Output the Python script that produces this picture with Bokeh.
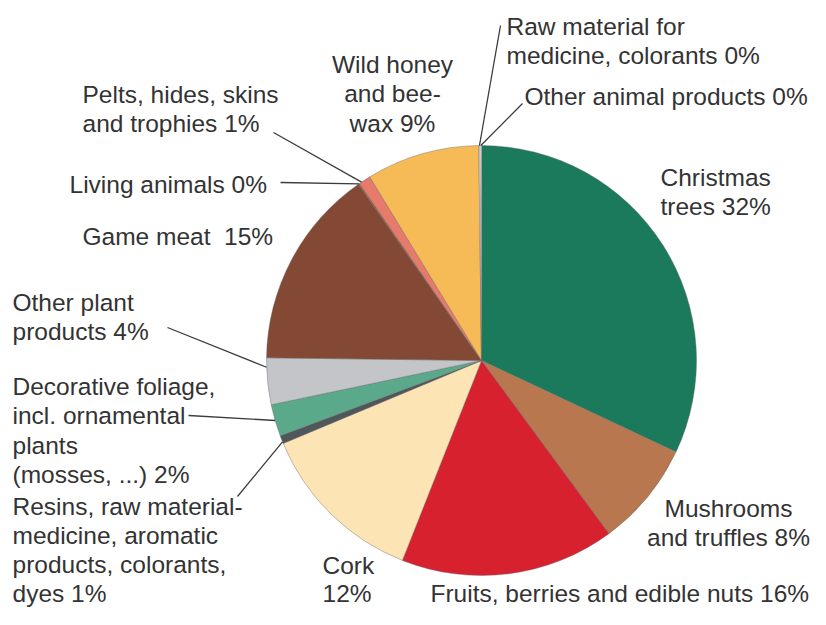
import numpy as np
from bokeh.plotting import figure
from bokeh.models import Range1d, ColumnDataSource
from bokeh.embed import file_html
from bokeh.resources import INLINE
from bokeh.core.properties import value

# ---------------- data ----------------
categories = [
    "Christmas trees",
    "Mushrooms and truffles",
    "Fruits, berries and edible nuts",
    "Cork",
    "Resins, raw material-medicine, aromatic products, colorants, dyes",
    "Decorative foliage, incl. ornamental plants (mosses, ...)",
    "Other plant products",
    "Game meat",
    "Living animals",
    "Pelts, hides, skins and trophies",
    "Wild honey and bee-wax",
    "Raw material for medicine, colorants",
    "Other animal products",
]
shares = [32.0, 7.9, 16.1, 12.7, 0.6, 2.4, 3.5, 15.1, 0.1, 0.9, 8.5, 0.1, 0.1]
pct_labels = ["32%", "8%", "16%", "12%", "1%", "2%", "4%", "15%", "0%", "1%", "9%", "0%", "0%"]
label_lines = [
    ["Christmas", "trees 32%"],
    ["Mushrooms", "and truffles 8%"],
    ["Fruits, berries and edible nuts 16%"],
    ["Cork", "12%"],
    ["Resins, raw material-", "medicine, aromatic", "products, colorants,", "dyes 1%"],
    ["Decorative foliage,", "incl. ornamental", "plants", "(mosses, ...) 2%"],
    ["Other plant", "products 4%"],
    ["Game meat\u00a0 15%"],
    ["Living animals 0%"],
    ["Pelts, hides, skins", "and trophies 1%"],
    ["Wild honey", "and bee-", "wax 9%"],
    ["Raw material for", "medicine, colorants 0%"],
    ["Other animal products 0%"],
]
colors = ["#1b7a5b", "#b9774f", "#d7212f", "#fde4b4", "#4f575a", "#5aa98a",
          "#c3c5c9", "#834935", "#9a5a3c", "#e87a6b", "#f6bb57", "#f3efe0", "#ffffff"]

# ---------------- layout (reference pixel space) ----------------
W, H = 810, 609
CX, CY, R = 481, 360, 215          # pie centre / radius in picture pixels

def dx(x):
    return x - CX

def dy(y):
    return CY - y

# label anchor: (x, cap-top y, align, line spacing)
label_pos = [
    (660, 168, "left", 29.5),
    (728, 499, "center", 29.5),
    (430, 584, "left", 29.5),
    (322, 556, "left", 28.5),
    (12, 497, "left", 29.0),
    (12, 377, "left", 29.5),
    (12, 293, "left", 29.5),
    (82, 227, "left", 29.5),
    (69, 175, "left", 29.5),
    (82, 85, "left", 29.5),
    (392, 55, "center", 29.5),
    (506, 17, "left", 29.5),
    (524, 87, "left", 29.5),
]
CAP_OFFSET = 5
FONT_SIZE = "24.5px"

# leaders: slice index -> (text-side point, fraction across slice)
leaders = {
    11: ((500, 25), 0.5),
    12: ((522, 103), 0.5),
    9: ((273, 132), 0.2),
    8: ((280, 182), 0.5),
    6: ((167, 327), 0.8),
    5: ((188, 415), 0.5),
    4: ((237, 496), 0.2),
}

# ---------------- figure ----------------
p = figure(width=W, height=H, output_backend="svg", toolbar_location=None,
           x_range=Range1d(dx(0), dx(W)), y_range=Range1d(dy(H), dy(0)),
           min_border=0)
p.axis.visible = False
p.grid.visible = False
p.outline_line_color = None
p.background_fill_color = "white"
p.border_fill_color = "white"

vals = np.array(shares, dtype=float)
frac = vals / vals.sum()
c1 = np.cumsum(frac)
c0 = c1 - frac
src = ColumnDataSource(dict(
    start=np.pi / 2 - 2 * np.pi * c1,
    end=np.pi / 2 - 2 * np.pi * c0,
    color=colors,
    name=categories,
))
p.wedge(x=0, y=0, radius=R, start_angle="start", end_angle="end",
        direction="anticlock", fill_color="color", line_color="#6a6a6a",
        line_width=0.6, line_alpha=0.7, source=src)

# leader lines
for idx, ((tx, ty), f) in leaders.items():
    c = c0[idx] + f * frac[idx]
    ex = R * np.sin(2 * np.pi * c)
    ey = R * np.cos(2 * np.pi * c)
    p.line([dx(tx), ex], [dy(ty), ey], line_color="#3c3c3c", line_width=1.3)

# labels
xs, ys, ts, als = [], [], [], []
for lines, (lx, ly, al, lh) in zip(label_lines, label_pos):
    for i, t in enumerate(lines):
        xs.append(dx(lx))
        ys.append(dy(ly - CAP_OFFSET + i * lh))
        ts.append(t)
        als.append(al)
for al in ("left", "center"):
    sel = [k for k in range(len(ts)) if als[k] == al]
    p.text(x=[xs[k] for k in sel], y=[ys[k] for k in sel], text=[ts[k] for k in sel],
           text_font=value("Liberation Sans"), text_font_size=FONT_SIZE,
           text_color="#333333", text_align=al, text_baseline="top")

open("out.html", "w").write(file_html(p, INLINE))
